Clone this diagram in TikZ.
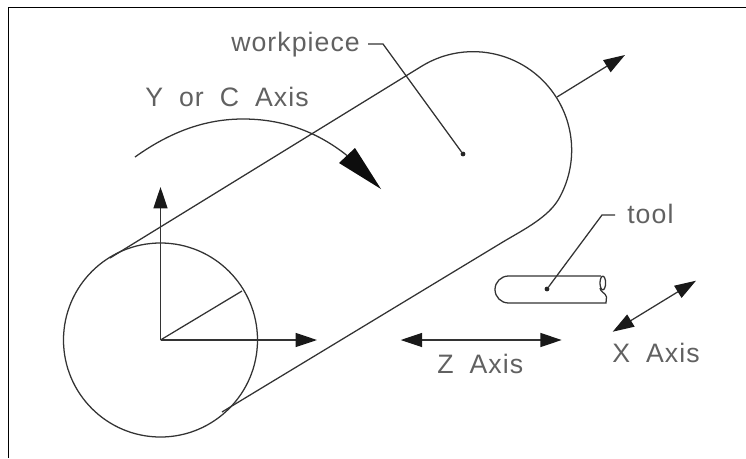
\documentclass[tikz,border=0pt]{standalone}
\usepackage{fontspec}
\setmainfont[LetterSpace=4]{Liberation Sans}
\usetikzlibrary{arrows.meta}
\tikzset{
  line/.style={draw=black!80,line width=0.95pt},
  lbl/.style={inner sep=0pt,anchor=base west,text=black!62,font=\fontsize{20}{22}\selectfont},
  axisarrow/.style={line,-{Triangle[length=16pt,width=10.5pt,color=black!90]}},
  axisboth/.style={line,{Triangle[length=16pt,width=10.5pt,color=black!90]}-{Triangle[length=16pt,width=10.5pt,color=black!90]}},
  smalldot/.style={circle,fill=black!85,inner sep=0pt,minimum size=3.6pt},
}
\begin{document}
\begin{tikzpicture}[x=0.75pt,y=-0.75pt]
\useasboundingbox (0,0) rectangle (746,458);
% frame
\draw[line width=1.1pt,black] (8.3,458) -- (8.3,7.3) -- (746,7.3);
% named points
\coordinate (O) at (160.5,340);
\coordinate (up) at (160.5,187);
\coordinate (right) at (317,340);
\coordinate (rim) at (242,291);
\coordinate (tanA) at (110,258);
\coordinate (tanB) at (422,66);
\coordinate (tanE) at (505,240.7);
\coordinate (tanD) at (222,412);
\coordinate (zs) at (557,97);
\coordinate (ze) at (625,55);
\coordinate (zl) at (400.7,340);
\coordinate (zr) at (561.7,340);
\coordinate (xl) at (612.7,331.7);
\coordinate (xr) at (696,280.7);
% workpiece
\draw[line] (O) circle[radius=97];
\draw[line] (tanA) -- (tanB) arc[start angle=121.3,end angle=-30,x radius=98.5,y radius=-98.5]
  .. controls (548,217) and (525,229) .. (tanE) -- (tanD);
\draw[line] (O) -- (rim);
\draw[axisarrow] (O) -- (up);
\draw[axisarrow] (O) -- (right);
\draw[axisarrow] (zs) -- (ze);
\draw[axisboth] (zl) -- (zr);
\draw[axisboth] (xl) -- (xr);
% Y or C rotation
\coordinate (ya) at (135,157);
\coordinate (yb) at (243,119);
\coordinate (yc) at (347,155.5);
\draw[line] (ya) .. controls (170,132) and (205,119) .. (yb) .. controls (280,119) and (315,130) .. (yc);
\fill[black!95] (355,148) -- (381,189) -- (339,163) -- cycle;
% tool
\draw[line] (601,276) -- (508.5,276) arc[start angle=90,end angle=270,x radius=13.5,y radius=-13.5] -- (606,303)
  -- (606.5,297) .. controls (606,293) and (600,292) .. (600,288);
\draw[line] (602.8,283) ellipse[x radius=2.8,y radius=6.8];
% labels
\node[lbl] (wp) at (231,51) {workpiece};
\node[lbl] (yl) at (145,106) {Y\hspace{0.6em}or\hspace{0.6em}C\hspace{0.6em}Axis};
\node[lbl] (tl) at (627,223) {tool};
\node[lbl] (zt) at (437,373) {Z\hspace{0.6em}Axis};
\node[lbl] (xt) at (612,362) {X\hspace{0.6em}Axis};
% leaders
\node[smalldot] (wd) at (463,154) {};
\node[smalldot] (td) at (547,289) {};
\coordinate (wa) at (368,44);
\coordinate (wb) at (383,44);
\coordinate (ta) at (615,215);
\coordinate (tb) at (602,215);
\draw[line] (wa) -- (wb) -- (wd);
\draw[line] (ta) -- (tb) -- (td);
\end{tikzpicture}
\end{document}
